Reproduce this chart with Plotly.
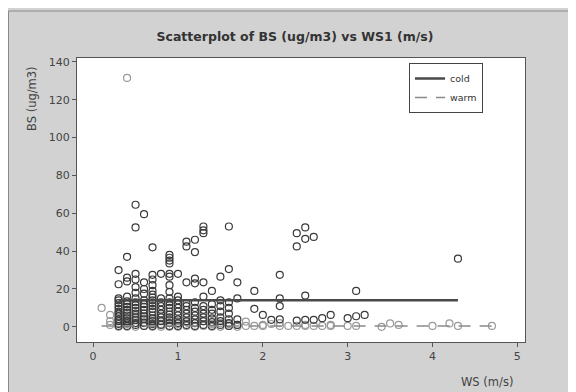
import plotly.graph_objects as go

# ---- data ----
cold_ws = (
    [0.3]*14 + [0.4]*14 + [0.5]*16 + [0.6]*13 + [0.7]*17 + [0.8]*9 + [0.9]*18 +
    [1.0]*10 + [1.1]*10 + [1.2]*11 + [1.3]*11 + [1.4]*7 + [1.5]*7 + [1.6]*8 +
    [1.7]*4 + [1.9]*2 + [2.0] + [2.1] + [2.2]*4 + [2.4]*3 + [2.5]*4 + [2.6]*2 +
    [2.7] + [2.8] + [3.0] + [3.1]*2 + [3.2] + [4.3]
)
cold_bs = (
    [0.5, 1.5, 3, 4, 5.5, 7, 8, 9.5, 11, 12.5, 14, 15, 22.5, 30] +
    [0.5, 2, 3, 4.5, 6, 7.5, 9, 10.5, 12, 13.5, 16, 24, 26, 37] +
    [1, 2, 3.5, 5, 7, 8.5, 10, 11.5, 13, 15, 18, 21, 25, 28, 52.5, 64.5] +
    [0.5, 2, 4, 5.5, 7, 9, 10.5, 12, 14, 17.5, 20, 23.5, 59.5] +
    [0.5, 1.5, 3, 4.5, 6, 8, 9.5, 11, 12.5, 14, 15.5, 17, 19, 22, 25, 27.5, 42] +
    [1, 3, 5, 7, 9, 11, 13, 15, 28] +
    [0.5, 2, 3.5, 5, 6.5, 8, 10, 11.5, 13, 15, 18.5, 22, 26.5, 28, 33.5, 35, 36.5, 38] +
    [0.5, 2, 4, 6, 8, 10, 12, 14, 16, 28] +
    [1, 3, 5, 7, 9, 11, 12.5, 23.5, 42.5, 45] +
    [0.5, 2, 4, 6, 8, 10, 13, 23, 25.5, 39.5, 46] +
    [1, 3, 5, 7, 9, 11, 16, 23.5, 49.5, 51, 53] +
    [0.5, 2.5, 4.5, 7, 9, 12, 19] +
    [1, 3, 5, 8, 11, 14, 26.5] +
    [0.5, 2, 4, 7, 10, 13, 30.5, 53] +
    [1, 4, 15, 23.5] +
    [9.5, 19] + [6.3] + [3.7] + [4, 11, 15, 27.5] + [3.3, 42.5, 49.5] +
    [3.7, 16.5, 46.5, 52.5] + [3.7, 47.5] + [4.6] + [6.3] + [4.6] + [5.6, 19] +
    [6.3] + [36]
)

warm_ws = (
    [0.1] + [0.2]*3 + [0.3]*4 + [0.4]*5 + [0.5]*4 + [0.6]*3 + [0.7]*3 + [0.8]*4 +
    [0.9]*3 + [1.0]*3 + [1.1]*2 + [1.2]*2 + [1.3]*2 + [1.4]*2 + [1.5]*2 + [1.6]*2 +
    [1.7]*2 + [1.8]*2 + [1.9] + [2.0]*2 + [2.1] + [2.2]*2 + [2.3] + [2.4] + [2.5]*2 +
    [2.6] + [2.7] + [2.8]*2 + [3.0] + [3.1] + [3.4] + [3.5] + [3.6] + [4.0] + [4.2] +
    [4.3] + [4.7]
)
warm_bs = (
    [10] + [1, 3, 6.3] + [0, 2, 4, 6] + [0, 1.5, 3, 5, 131.5] + [0, 2, 4, 6] +
    [0.5, 2.5, 4.5] + [0, 2, 4] + [0, 1.5, 3.5, 6] + [0, 2, 4] + [0, 1.5, 3] +
    [0.5, 2.5] + [0, 2] + [0.5, 3] + [0, 1.5] + [0, 2] + [0.5, 1.5] + [0, 1] +
    [0.5, 2.8] + [0.5] + [0.5, 1] + [1.5] + [0.5, 2] + [0.5] + [0.5] + [0.5, 1] +
    [0.5] + [0.5] + [0.5, 1] + [0.5] + [0.5] + [0] + [1.8] + [1] + [0.5] + [1.8] +
    [0.5] + [0.5]
)

# fitted lines per group (end points)
cold_fit_ws = [0.3, 4.3]
cold_fit_bs = [14.0, 14.0]
warm_fit_ws = [0.1, 4.7]
warm_fit_bs = [0.5, 0.5]

x_ticks = [0, 1, 2, 3, 4, 5]
y_ticks = [0, 20, 40, 60, 80, 100, 120, 140]

COLD = "#3a3a3a"
WARM = "#9a9a9a"
FONT = "DejaVu Sans"

fig = go.Figure()
fig.add_trace(go.Scatter(
    x=warm_ws, y=warm_bs, mode="markers", name="warm", showlegend=False,
    marker=dict(symbol="circle-open", size=7, color=WARM, line=dict(width=1.2, color=WARM)),
))
fig.add_trace(go.Scatter(
    x=cold_ws, y=cold_bs, mode="markers", name="cold", showlegend=False,
    marker=dict(symbol="circle-open", size=7, color=COLD, line=dict(width=1.2, color=COLD)),
))
fig.add_trace(go.Scatter(
    x=cold_fit_ws, y=cold_fit_bs, mode="lines", name="cold", legendrank=1,
    line=dict(color="#4a4a4a", width=2.5),
))
fig.add_trace(go.Scatter(
    x=warm_fit_ws, y=warm_fit_bs, mode="lines", name="warm", legendrank=2,
    line=dict(color="#8a8a8a", width=1.5, dash="12px,9px"),
))

# page has an 8px body margin: figure origin sits at page (8, 8)
OFF = 8
W, H = 566, 384
L, T = 77 - OFF, 58 - OFF
R = W - (525 - OFF)
B = H - (342 - OFF)
pw, ph = W - L - R, H - T - B

def px(xpage):
    return (xpage - OFF - L) / pw

def py(ypage):
    return (H - B - (ypage - OFF)) / ph

fig.update_layout(
    width=W, height=H,
    margin=dict(l=L, r=R, t=T, b=B),
    paper_bgcolor="#d2d2d2",
    plot_bgcolor="white",
    font=dict(family=FONT, color="#444444", size=11),
    title=dict(text="<b>Scatterplot of BS (ug/m3) vs WS1 (m/s)</b>",
               x=(295 - OFF) / W, xanchor="center", y=1 - (37 - OFF) / H, yanchor="middle",
               font=dict(family=FONT, size=12.5, color="#333333")),
    xaxis=dict(range=[-0.19, 5.09], tickvals=x_ticks, ticks="outside", ticklen=4,
               tickcolor="#555", showline=True, linecolor="#555", linewidth=1,
               mirror=True, showgrid=False, zeroline=False,
               tickfont=dict(size=11, color="#444")),
    yaxis=dict(range=[-8, 142], tickvals=y_ticks, ticks="outside", ticklen=4,
               tickcolor="#555", showline=True, linecolor="#555", linewidth=1,
               mirror=True, showgrid=False, zeroline=False,
               tickfont=dict(size=11, color="#444")),
    legend=dict(x=px(483), xanchor="right", y=py(63), yanchor="top",
                bgcolor="white", bordercolor="#444", borderwidth=1,
                font=dict(size=9.5, color="#333"), tracegroupgap=0,
                itemwidth=30),
    shapes=[
        dict(type="rect", xref="paper", yref="paper", layer="below",
             x0=px(8.5), x1=px(573), y0=py(400), y1=py(11),
             fillcolor="rgba(0,0,0,0)", line=dict(color="#8a8a8a", width=1)),
    ],
    annotations=[
        dict(text="BS (ug/m3)", xref="paper", yref="paper", x=px(32), y=py(99),
             textangle=-90, showarrow=False, font=dict(size=11.5, color="#444"),
             xanchor="center", yanchor="middle"),
        dict(text="WS (m/s)", xref="paper", yref="paper", x=px(487), y=py(382),
             showarrow=False, font=dict(size=11.5, color="#444"),
             xanchor="center", yanchor="middle"),
    ],
)

fig.write_html("out.html")
